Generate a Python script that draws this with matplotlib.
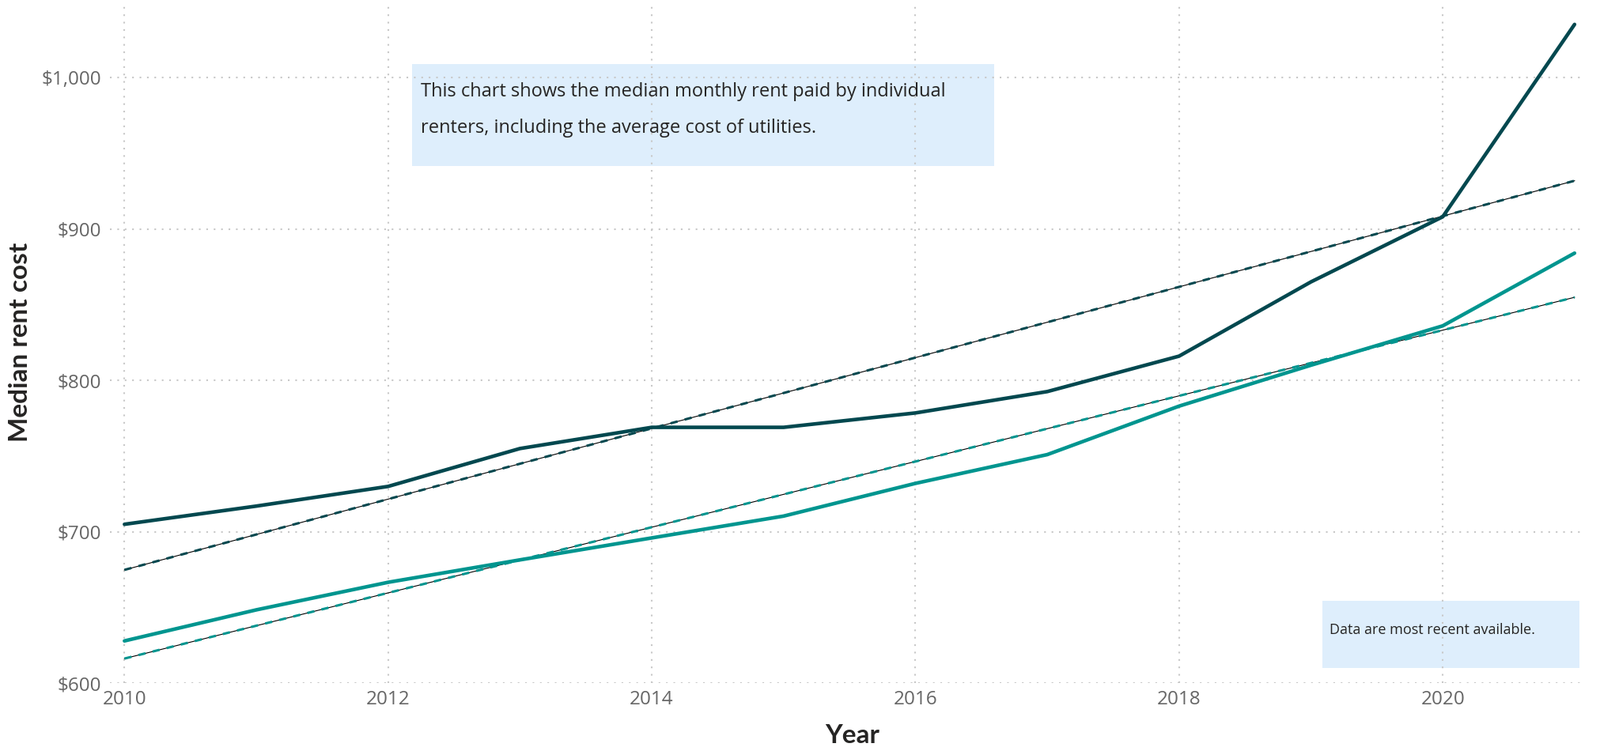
import numpy as np
import matplotlib
matplotlib.use("Agg")
import matplotlib.pyplot as plt
from matplotlib.patches import Rectangle
from matplotlib.ticker import FuncFormatter

years = [2010, 2011, 2012, 2013, 2014, 2015, 2016, 2017, 2018, 2019, 2020, 2021]
rent_dark = [705, 717, 730, 755, 769, 769, 778.5, 792.6, 816, 865, 908, 1035]
rent_teal = [628, 648.5, 666.7, 681.5, 696, 710.4, 732, 751, 783, 810, 836, 884]
y_ticks = [600, 700, 800, 900, 1000]
x_ticks = [2010, 2012, 2014, 2016, 2018, 2020]

note_lines = ["This chart shows the median monthly rent paid by individual",
              "renters, including the average cost of utilities."]
note2 = "Data are most recent available."

C_DARK = "#03484f"
C_TEAL = "#00958f"
C_BOX = "#deeefc"
C_GRID = "#c8c8c8"
C_TICK = "#666666"
C_TEXT = "#252423"

W, H = 2023, 950
fig = plt.figure(figsize=(W / 100, H / 100), dpi=100)

def fx(px):
    return px / W

def fy(py):
    return 1 - py / H

ax_l, ax_r, ax_t, ax_b = 139, 2000, 5, 864.4
ax = fig.add_axes([fx(ax_l), fy(ax_b), fx(ax_r - ax_l), (ax_b - ax_t) / H])
ax.set_xlim(2009.89, 2021.055)
ax.set_ylim(600, 1048.5)

for s in ax.spines.values():
    s.set_visible(False)
ax.set_axisbelow(True)
ax.set_xticks(x_ticks)
ax.set_yticks(y_ticks)
ax.yaxis.set_major_formatter(FuncFormatter(lambda v, p: f"${v:,.0f}"))
ax.tick_params(length=0, labelsize=17.5, labelcolor=C_TICK)
ax.tick_params(axis="y", pad=8)
ax.tick_params(axis="x", pad=6)
for lab in ax.get_xticklabels() + ax.get_yticklabels():
    lab.set_family("Open Sans")
ax.grid(True, color=C_GRID, linewidth=1.5, linestyle=(0, (1, 3.5)))

# annotation boxes (behind gridlines)
ax.add_patch(Rectangle((fx(521), fy(210)), fx(1257 - 521), (210 - 81) / H,
                       transform=fig.transFigure, facecolor=C_BOX,
                       edgecolor="none", zorder=0.2, clip_on=False))
ax.add_patch(Rectangle((fx(1672), fy(845)), fx(1997 - 1672), (845 - 760) / H,
                       transform=fig.transFigure, facecolor=C_BOX,
                       edgecolor="none", zorder=0.2, clip_on=False))

x = np.array(years, dtype=float)
for vals, col in [(rent_dark, C_DARK), (rent_teal, C_TEAL)]:
    v = np.array(vals, dtype=float)
    k, b = np.polyfit(x, v, 1)
    trend = k * x + b
    ax.plot(x, trend, color="black", linewidth=0.8, zorder=2)
    ax.plot(x, trend, color=col, linewidth=2.2, linestyle=(0, (3, 3)), zorder=2.5)
    ax.plot(x, v, color=col, linewidth=3.3, zorder=3, solid_capstyle="round")

fig.text(fx(532), fy(116), note_lines[0], fontsize=17, color=C_TEXT,
         family="Open Sans", ha="left", va="center")
fig.text(fx(532), fy(162), note_lines[1], fontsize=17, color=C_TEXT,
         family="Open Sans", ha="left", va="center")
fig.text(fx(1681), fy(797), note2, fontsize=13, color=C_TEXT,
         family="Open Sans", ha="left", va="center")

fig.text(fx(26), fy(433), "Median rent cost", rotation=90, fontsize=24,
         fontweight="bold", color=C_TEXT, family="Lato", ha="center", va="center")
fig.text(fx(1078), fy(931), "Year", fontsize=24, fontweight="bold",
         color=C_TEXT, family="Lato", ha="center", va="center")

fig.savefig("out.png", dpi=100)
